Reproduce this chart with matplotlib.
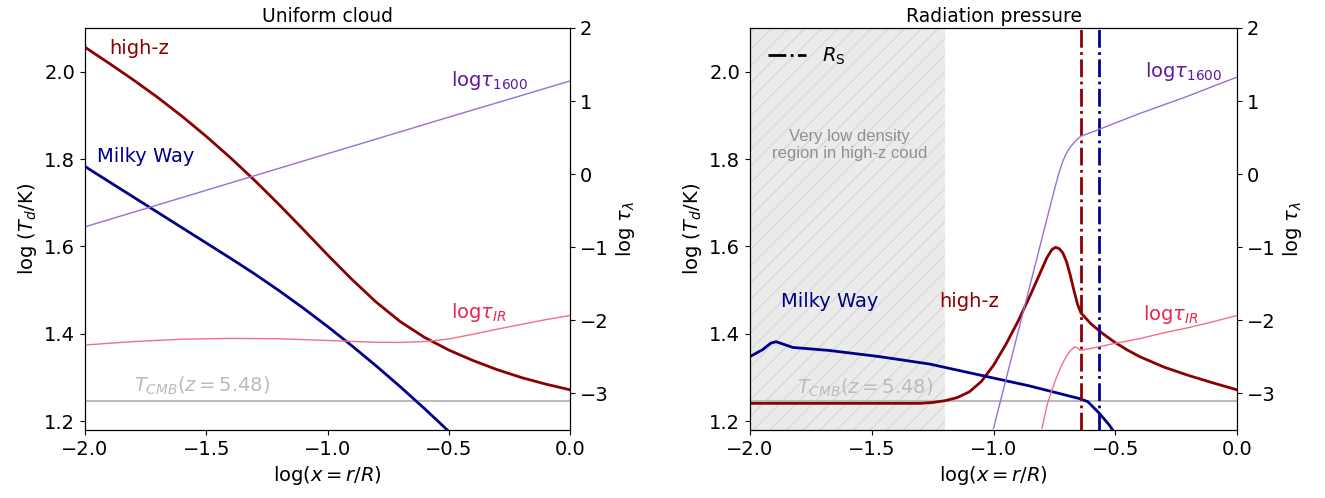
import matplotlib
matplotlib.use("Agg")
import matplotlib.pyplot as plt

# ---- Uniform cloud (left panel) ----
uni_x_highz = [-2.0, -1.9, -1.8, -1.7, -1.6, -1.5, -1.4, -1.3, -1.2, -1.1, -1.0,
               -0.9, -0.8, -0.7, -0.6, -0.5, -0.4, -0.3, -0.2, -0.1, 0.0]
uni_T_highz = [2.056, 2.019, 1.981, 1.941, 1.898, 1.852, 1.803, 1.751, 1.696, 1.639, 1.581,
               1.525, 1.473, 1.428, 1.392, 1.363, 1.339, 1.318, 1.300, 1.285, 1.272]

uni_x_mw = [-2.0, -1.9, -1.8, -1.7, -1.6, -1.5, -1.4, -1.3, -1.2, -1.1, -1.0, -0.9, -0.8, -0.7, -0.6, -0.5]
uni_T_mw = [1.783, 1.748, 1.713, 1.678, 1.643, 1.608, 1.573, 1.537, 1.499, 1.459, 1.417, 1.373, 1.327, 1.279, 1.229, 1.177]

uni_x_t1600 = [-2.0, -1.5, -1.0, -0.5, 0.0]
uni_tau_1600 = [-0.72, -0.22, 0.28, 0.78, 1.275]

uni_x_tir = [-2.0, -1.8, -1.6, -1.4, -1.2, -1.0, -0.8, -0.7, -0.6, -0.5, -0.4, -0.3, -0.2, -0.1, 0.0]
uni_tau_ir = [-2.337, -2.29, -2.258, -2.247, -2.252, -2.275, -2.300, -2.302, -2.290, -2.255, -2.19, -2.12, -2.055, -1.99, -1.933]

# ---- Radiation pressure (right panel) ----
rad_x_highz = [-2.0, -1.3, -1.25, -1.2, -1.15, -1.1, -1.05, -1.0, -0.95, -0.9, -0.85, -0.8,
               -0.78, -0.76, -0.745, -0.73, -0.715, -0.7, -0.685, -0.67, -0.655, -0.641,
               -0.6, -0.55, -0.5, -0.45, -0.4, -0.3, -0.2, -0.1, 0.0]
rad_T_highz = [1.241, 1.241, 1.243, 1.247, 1.254, 1.267, 1.291, 1.328, 1.375, 1.428, 1.487, 1.550,
               1.575, 1.593, 1.598, 1.595, 1.585, 1.565, 1.535, 1.500, 1.468, 1.448,
               1.423, 1.400, 1.380, 1.363, 1.348, 1.324, 1.305, 1.288, 1.272]

rad_x_mw = [-2.0, -1.948, -1.914, -1.893, -1.866, -1.825, -1.674, -1.469, -1.263, -1.058, -0.853,
            -0.648, -0.613, -0.565, -0.524, -0.505]
rad_T_mw = [1.348, 1.364, 1.379, 1.382, 1.377, 1.369, 1.362, 1.348, 1.331, 1.306, 1.281,
            1.252, 1.245, 1.218, 1.191, 1.175]

rad_x_t1600 = [-1.0, -0.83, -0.76, -0.745, -0.73, -0.715, -0.7, -0.685, -0.67, -0.655, -0.641,
               -0.6, -0.5, -0.4, -0.3, -0.2, -0.1, 0.0]
rad_tau_1600 = [-3.477, -1.257, -0.343, -0.15, 0.03, 0.18, 0.29, 0.37, 0.43, 0.48, 0.52,
                0.57, 0.70, 0.83, 0.95, 1.07, 1.20, 1.328]

rad_x_tir = [-0.801, -0.79, -0.78, -0.766, -0.753, -0.74, -0.726, -0.712, -0.698, -0.684, -0.671,
             -0.664, -0.655, -0.644, -0.6, -0.521, -0.4, -0.3, -0.2, -0.1, 0.0]
rad_tau_ir = [-3.477, -3.31, -3.159, -3.01, -2.887, -2.77, -2.659, -2.56, -2.478, -2.415, -2.373,
              -2.364, -2.375, -2.410, -2.385, -2.328, -2.25, -2.17, -2.10, -2.02, -1.933]

rs_highz = -0.641
rs_mw = -0.565
low_density_edge = -1.2

log_T_cmb = 1.247

RED = "#8b0000"
BLUE = "#00008b"
PURPLE_LINE = "#9b6fd0"
PURPLE_TEXT = "#5e1a9e"
PINK_LINE = "#f07088"
PINK_TEXT = "#e8284f"
GRAY = "#bbbbbb"

plt.rcParams["font.size"] = 14

fig = plt.figure(figsize=(13.25, 4.98), dpi=100)
W, H = 1325, 498
ax1 = fig.add_axes([85 / W, 1 - 430 / H, 485 / W, 402 / H])
ax2 = fig.add_axes([750 / W, 1 - 430 / H, 487 / W, 402 / H])


def setup(ax, title):
    ax.set_xlim(-2, 0)
    ax.set_ylim(1.18, 2.1)
    ax.set_xticks([-2.0, -1.5, -1.0, -0.5, 0.0])
    ax.set_yticks([1.2, 1.4, 1.6, 1.8, 2.0])
    ax.set_xlabel(r"log$(x = r/R)$")
    ax.set_ylabel(r"log $(T_d/{\rm K})$")
    ax.set_title(title, fontsize=13.5, pad=4)
    ax.axhline(log_T_cmb, color=GRAY, lw=1.5, zorder=1)
    tx = ax.twinx()
    tx.set_ylim(-3.5, 2)
    tx.set_yticks([2, 1, 0, -1, -2, -3])
    tx.set_ylabel(r"log $\tau_\lambda$")
    return tx


# left panel
tx1 = setup(ax1, "Uniform cloud")
ax1.plot(uni_x_highz, uni_T_highz, color=RED, lw=2)
ax1.plot(uni_x_mw, uni_T_mw, color=BLUE, lw=2)
tx1.plot(uni_x_t1600, uni_tau_1600, color=PURPLE_LINE, lw=1)
tx1.plot(uni_x_tir, uni_tau_ir, color=PINK_LINE, lw=1)
ax1.text(-1.90, 2.054, "high-z", color=RED, va="center")
ax1.text(-1.95, 1.805, "Milky Way", color=BLUE, va="center")
ax1.text(-0.49, 1.979, r"log$\tau_{1600}$", color=PURPLE_TEXT, va="center")
ax1.text(-0.49, 1.45, r"log$\tau_{IR}$", color=PINK_TEXT, va="center")
ax1.text(-1.80, 1.280, r"$T_{CMB}(z=5.48)$", color=GRAY, va="center")

# right panel
tx2 = setup(ax2, "Radiation pressure")
ax2.axvspan(-2, low_density_edge, facecolor="#ebebeb", hatch="//", edgecolor="#d9d9d9", lw=0, zorder=0)
ax2.text(-1.59, 1.832, "Very low density\nregion in high-z coud", color="#909090",
         family="Liberation Sans", fontsize=12, ha="center", va="center")
ax2.plot(rad_x_highz, rad_T_highz, color=RED, lw=2)
ax2.plot(rad_x_mw, rad_T_mw, color=BLUE, lw=2)
tx2.plot(rad_x_t1600, rad_tau_1600, color=PURPLE_LINE, lw=1)
tx2.plot(rad_x_tir, rad_tau_ir, color=PINK_LINE, lw=1)
ax2.axvline(rs_highz, color=RED, ls="-.", lw=2)
ax2.axvline(rs_mw, color=BLUE, ls="-.", lw=2)
ax2.plot([], [], color="k", ls="-.", lw=2, label=r"$R_{\rm S}$")
ax2.legend(loc="upper left", frameon=False, handlelength=2)
ax2.text(-1.873, 1.475, "Milky Way", color=BLUE, va="center")
ax2.text(-1.223, 1.475, "high-z", color=RED, va="center")
ax2.text(-0.376, 2.0, r"log$\tau_{1600}$", color=PURPLE_TEXT, va="center")
ax2.text(-0.384, 1.445, r"log$\tau_{IR}$", color=PINK_TEXT, va="center")
ax2.text(-1.806, 1.277, r"$T_{CMB}(z=5.48)$", color=GRAY, va="center")

fig.savefig("out.png", dpi=100)
